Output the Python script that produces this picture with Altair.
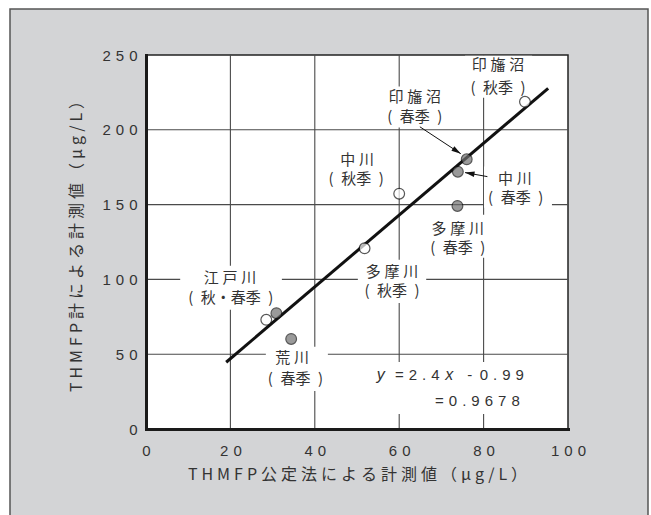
import math
import altair as alt
import pandas as pd

# --- measured values -------------------------------------------------------
sites = ["江戸川", "江戸川", "荒川", "多摩川", "多摩川", "中川", "中川", "印旛沼", "印旛沼"]
seasons = ["秋季", "春季", "春季", "秋季", "春季", "秋季", "春季", "秋季", "春季"]
official_values = [28.5, 30.9, 34.4, 51.8, 73.8, 60.0, 73.9, 89.8, 76.0]   # THMFP official method (µg/L)
meter_values = [73.0, 77.4, 60.2, 120.8, 149.1, 157.3, 172.0, 218.7, 180.3]  # THMFP meter (µg/L)

# regression fit
slope, intercept, r2 = 2.4, -0.99, 0.9678
fit_range = [19.0, 95.3]

x_ticks = [0, 20, 40, 60, 80, 100]
y_ticks = [0, 50, 100, 150, 200, 250]
x_grid = [20, 40, 60, 80]
y_grid = [50, 100, 150, 200]

# annotation text lines and their anchor points (data units)
label_lines = ["印旛沼", "(秋季)", "印旛沼", "(春季)", "中川", "(秋季)", "中川", "(春季)",
               "多摩川", "(春季)", "多摩川", "(秋季)", "江戸川", "(秋・春季)", "荒川", "(春季)"]
label_x = [83.4, 83.4, 63.7, 63.7, 50.0, 49.8, 87.4, 87.6, 73.9, 73.9, 58.3, 58.3, 19.9, 20.1, 34.6, 35.4]
label_y = [243.0, 228.2, 221.6, 208.6, 180.0, 167.1, 167.3, 154.6, 133.9, 120.9, 105.1, 92.4, 101.1, 87.7, 47.5, 33.5]

# white boxes behind the annotations (data units)
box_x1 = [75.6, 55.5, 42.2, 80.1, 66.1, 50.2, 8.1, 28.4, 53.6]
box_x2 = [91.5, 72.0, 57.8, 96.2, 82.0, 66.4, 32.2, 43.1, 90.5]
box_y1 = [221.5, 201.5, 160.0, 147.9, 114.5, 84.3, 79.7, 25.4, 10.0]
box_y2 = [249.5, 228.9, 188.1, 175.4, 143.2, 113.1, 109.1, 54.9, 44.8]

# leader arrows (tail -> tip, data units)
arrow_x1 = [64.9, 80.9]
arrow_y1 = [202.0, 168.7]
arrow_x2 = [74.6, 75.6]
arrow_y2 = [184.0, 171.4]

W, H = 422, 374
PX_X, PX_Y = W / 100.0, H / 250.0

CJK = "Noto Sans CJK JP"
LATIN = "Liberation Sans"
INK = "#333333"


def spaced(s, sep="\u2005"):
    return sep.join(list(s))


def paren_line(s):
    # "(春季)" -> "( 春季 )" with wide gaps inside the brackets
    return "(\u2002" + s[1:-1] + "\u2002)"


xs = alt.Scale(domain=[0, 100], nice=False, zero=True)
ys = alt.Scale(domain=[0, 250], nice=False, zero=True)

sep_tick = "\u2004"
x_axis = alt.Axis(
    values=x_ticks, grid=False, ticks=False, domain=True, domainWidth=3, domainColor="#1a1a1a",
    domainCap="square", labelFont=LATIN, labelFontSize=15, labelColor=INK, labelPadding=14,
    labelFlush=False, labelOverlap=False,
    labelExpr=f"join(split(datum.label, ''), '{sep_tick}')",
    title=spaced("THMFP公定法による計測値（μg/L）"), titleFont=CJK, titleFontSize=16,
    titleFontWeight="normal", titleColor=INK, titlePadding=8, zindex=1,
)
y_axis = alt.Axis(
    values=y_ticks, grid=False, ticks=False, domain=True, domainWidth=3, domainColor="#1a1a1a",
    domainCap="square", labelFont=LATIN, labelFontSize=15, labelColor=INK, labelPadding=9,
    labelFlush=False, labelOverlap=False,
    labelExpr=f"join(split(datum.label, ''), '{sep_tick}')",
    title=spaced("THMFP計による計測値（μg/L）"), titleFont=CJK, titleFontSize=16,
    titleFontWeight="normal", titleColor=INK, titlePadding=17, zindex=1,
)


def X(field="x"):
    return alt.X(f"{field}:Q", scale=xs, axis=x_axis)


def Y(field="y"):
    return alt.Y(f"{field}:Q", scale=ys, axis=y_axis)


one = pd.DataFrame({"k": [0]})

# grey page panel and white plotting area
panel = alt.Chart(one).mark_rect(fill="#d3d4d6", stroke="#555555", strokeWidth=1.5).encode(
    x=alt.value(-136), x2=alt.value(502), y=alt.value(-46), y2=alt.value(480)
)
plot_bg = alt.Chart(one).mark_rect(fill="white", stroke="#222222", strokeWidth=1.5).encode(
    x=alt.value(0), x2=alt.value(W), y=alt.value(0), y2=alt.value(H)
)

vgrid = alt.Chart(pd.DataFrame({"x": x_grid})).mark_rule(color="#4a4a4a", strokeWidth=1.1).encode(
    x=X(), y=alt.value(0), y2=alt.value(H)
)
hgrid = alt.Chart(pd.DataFrame({"y": y_grid})).mark_rule(color="#4a4a4a", strokeWidth=1.1).encode(
    y=Y(), x=alt.value(0), x2=alt.value(W)
)

boxes = alt.Chart(pd.DataFrame({"x": box_x1, "x2": box_x2, "y": box_y1, "y2": box_y2})).mark_rect(
    fill="white"
).encode(x=X(), x2="x2:Q", y=Y(), y2="y2:Q")

fit_df = pd.DataFrame({"x": fit_range, "y": [slope * v + intercept for v in fit_range]})
fit = alt.Chart(fit_df).mark_line(color="#111111", strokeWidth=3).encode(x=X(), y=Y())

pts_df = pd.DataFrame({"site": sites, "season": seasons, "x": official_values, "y": meter_values})
points = alt.Chart(pts_df).mark_point(filled=True, size=115, stroke="#111111", strokeWidth=1.2).encode(
    x=X(), y=Y(),
    fill=alt.Fill("season:N", scale=alt.Scale(domain=["秋季", "春季"], range=["#ffffff", "#707070"]),
                  legend=None),
)

lab_df = pd.DataFrame({
    "x": label_x, "y": label_y,
    "t": [paren_line(s) if s.startswith("(") else spaced(s) for s in label_lines],
})
labels = alt.Chart(lab_df).mark_text(font=CJK, fontSize=15, color=INK, align="center",
                                       baseline="middle").encode(x=X(), y=Y(), text="t:N")

arr_df = pd.DataFrame({"x": arrow_x1, "y": arrow_y1, "x2": arrow_x2, "y2": arrow_y2})
arr_df["angle"] = [
    (math.degrees(math.atan2((bx - ax) * PX_X, (by - ay) * PX_Y)) + 360) % 360
    for ax, ay, bx, by in zip(arrow_x1, arrow_y1, arrow_x2, arrow_y2)
]
arrow_lines = alt.Chart(arr_df).mark_rule(color="#111111", strokeWidth=1).encode(
    x=X(), y=Y(), x2="x2:Q", y2="y2:Q"
)
heads = alt.Chart(arr_df).mark_point(
    shape="M0,0L-0.55,1.9L0.55,1.9Z", filled=True, color="#111111", size=100, opacity=1
).encode(x=X("x2"), y=Y("y2"), angle=alt.Angle("angle:Q", scale=None))

# regression equation
eq_it = alt.Chart(pd.DataFrame({"x": [54.7, 70.9], "y": [36.1, 36.1], "t": ["y", "x"]})).mark_text(
    font=LATIN, fontSize=16, fontStyle="italic", color=INK, align="left", baseline="middle"
).encode(x=X(), y=Y(), text="t:N")
eq_reg = alt.Chart(pd.DataFrame({
    "x": [59.0, 76.1, 68.5],
    "y": [36.1, 36.1, 18.7],
    "t": ["=\u2004" + spaced(f"{slope}", "\u2004"),
          "-\u2002" + spaced(f"{abs(intercept)}", "\u2004"),
          "=\u2004" + spaced(f"{r2}", "\u2004")],
})).mark_text(font=LATIN, fontSize=15, color=INK, align="left", baseline="middle").encode(
    x=X(), y=Y(), text="t:N"
)

chart = alt.layer(
    panel, plot_bg, vgrid, hgrid, boxes, fit, arrow_lines, heads, points, labels, eq_it, eq_reg
).properties(
    width=W, height=H,
    autosize=alt.AutoSizeParams(type="none"),
    padding={"left": 146, "top": 55, "right": 83, "bottom": 86},
    background="white",
).configure_view(stroke=None)

chart.save("out.html", embed_options={"renderer": "svg", "actions": False})
